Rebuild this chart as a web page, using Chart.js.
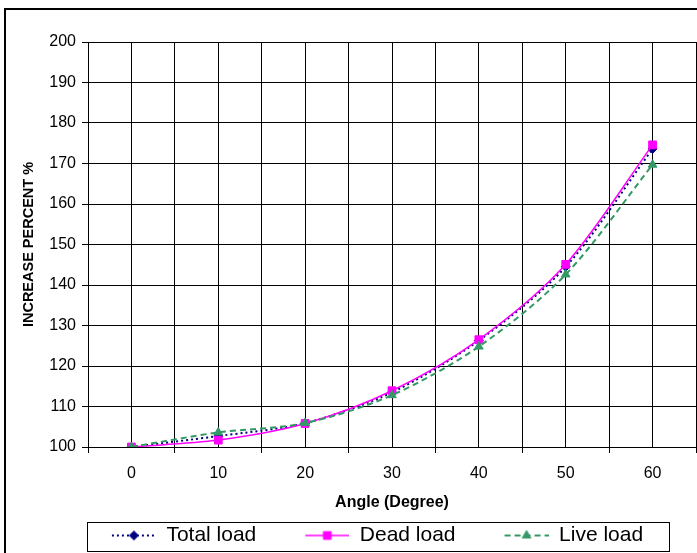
<!DOCTYPE html>
<html>
<head>
<meta charset="utf-8">
<title>Increase percent vs angle</title>
<script src="https://cdn.jsdelivr.net/npm/chart.js@4.4.0/dist/chart.umd.min.js"></script>
<style>
  html, body { margin: 0; padding: 0; background: #fff; overflow: hidden; }
  body { width: 697px; height: 553px; position: relative; }
  #frame { position: absolute; left: 4px; top: 8px; width: 760px; height: 620px; border: 2px solid #000; }
  #loadChart { position: absolute; left: 0; top: 0; }
</style>
</head>
<body>
<div id="frame"></div>
<canvas id="loadChart" width="719" height="560"></canvas>
<script>
// angle in degrees
const angles = [0, 10, 20, 30, 40, 50, 60];
// increase percent per load case
const totalLoad = [100, 102.7, 105.9, 113.5, 126.3, 144.5, 173.6];
const deadLoad = [100, 101.7, 105.8, 113.9, 126.5, 145.1, 174.6];
const liveLoad = [100, 103.6, 105.9, 112.8, 124.8, 142.6, 169.7];
const seriesNames = ['Total load', 'Dead load', 'Live load'];

const LEGEND_GAP = 39;   // blank space before each legend sample
const SAMPLE_LEN = 44;   // length of the line drawn in the legend

Chart.defaults.font.family = "'Liberation Sans', Arial, sans-serif";
Chart.defaults.color = '#000';

function points(values) {
  return angles.map((a, i) => ({ x: a, y: values[i] }));
}

// small line + marker image used as the legend symbol
function legendSample(color, dash, width, style, radius) {
  const c = document.createElement('canvas');
  c.width = LEGEND_GAP + SAMPLE_LEN;
  c.height = 20;
  const g = c.getContext('2d');
  g.strokeStyle = color;
  g.fillStyle = color;
  g.lineWidth = width;
  g.setLineDash(dash);
  g.beginPath();
  g.moveTo(LEGEND_GAP, 10);
  g.lineTo(LEGEND_GAP + SAMPLE_LEN, 10);
  g.stroke();
  g.setLineDash([]);
  g.lineWidth = 1;
  Chart.helpers.drawPoint(g, { pointStyle: style, radius: radius, borderWidth: 1 }, LEGEND_GAP + SAMPLE_LEN / 2, 10);
  return c;
}

const styles = [
  { color: '#000080', dash: [2, 3], width: 2, point: 'rectRot', radius: 4.5 },
  { color: '#ff00ff', dash: [], width: 1.5, point: 'rect', radius: 5.5 },
  { color: '#339966', dash: [6, 4], width: 2, point: 'triangle', radius: 5 }
];
const samples = styles.map(s => legendSample(s.color, s.dash, s.width, s.point, s.radius));

// box around the legend row
const legendFrame = {
  id: 'legendFrame',
  afterDraw(chart) {
    const boxes = chart.legend.legendHitBoxes;
    if (!boxes || !boxes.length) return;
    const first = boxes[0];
    const last = boxes[boxes.length - 1];
    const cy = first.top + first.height / 2;
    const left = Math.round(first.left + LEGEND_GAP - 25) + 0.5;
    const right = Math.round(last.left + last.width + 26) + 0.5;
    const top = Math.round(cy - 14) + 0.5;
    const ctx = chart.ctx;
    ctx.save();
    ctx.strokeStyle = '#000';
    ctx.lineWidth = 1;
    ctx.strokeRect(left, top, right - left, 29);
    ctx.restore();
  }
};

const datasets = [totalLoad, deadLoad, liveLoad].map((values, i) => ({
  label: seriesNames[i],
  data: points(values),
  borderColor: styles[i].color,
  backgroundColor: styles[i].color,
  borderDash: styles[i].dash,
  borderWidth: styles[i].width,
  pointStyle: styles[i].point,
  pointRadius: styles[i].radius,
  pointBorderWidth: 1,
  tension: 0.3,
  fill: false,
  order: 2 - i
}));

new Chart(document.getElementById('loadChart'), {
  type: 'line',
  data: { datasets: datasets },
  plugins: [legendFrame],
  options: {
    responsive: false,
    animation: false,
    devicePixelRatio: 1,
    layout: { padding: { left: 20, top: 42, right: 23, bottom: 4 } },
    plugins: {
      tooltip: { enabled: false },
      legend: {
        position: 'bottom',
        labels: {
          usePointStyle: true,
          pointStyleWidth: LEGEND_GAP + SAMPLE_LEN,
          padding: 10,
          color: '#000',
          font: { size: 21 },
          generateLabels: chart => chart.data.datasets.map((ds, i) => ({
            text: ds.label,
            fillStyle: ds.borderColor,
            strokeStyle: ds.borderColor,
            lineWidth: 0,
            pointStyle: samples[i],
            hidden: false,
            datasetIndex: i,
            fontColor: '#000'
          }))
        }
      }
    },
    scales: {
      x: {
        type: 'linear',
        min: -5,
        max: 65,
        ticks: {
          stepSize: 5,
          autoSkip: false,
          maxRotation: 0,
          padding: 11,
          font: { size: 16 },
          callback: v => (v % 10 === 0 && v >= 0 && v <= 60) ? String(v) : ''
        },
        grid: {
          color: '#000',
          lineWidth: 1,
          tickLength: 6,
          tickColor: ctx => (ctx.tick && ctx.tick.value % 10 !== 0) ? '#000' : 'rgba(0,0,0,0)'
        },
        border: { color: '#000' },
        title: {
          display: true,
          text: 'Angle (Degree)',
          font: { size: 16, weight: 'bold' },
          padding: { top: 0, bottom: 3 }
        },
        afterFit: s => { s.height = 68; }
      },
      y: {
        min: 100,
        max: 200,
        ticks: { stepSize: 10, padding: 6, font: { size: 16 } },
        grid: { color: '#000', lineWidth: 1, tickLength: 6, tickColor: '#000' },
        border: { color: '#000' },
        title: {
          display: true,
          text: 'INCREASE PERCENT %',
          font: { size: 14.5, weight: 'bold' },
          padding: { top: 0, bottom: 0 }
        },
        afterFit: s => { s.width = 68; }
      }
    }
  }
});
</script>
</body>
</html>
